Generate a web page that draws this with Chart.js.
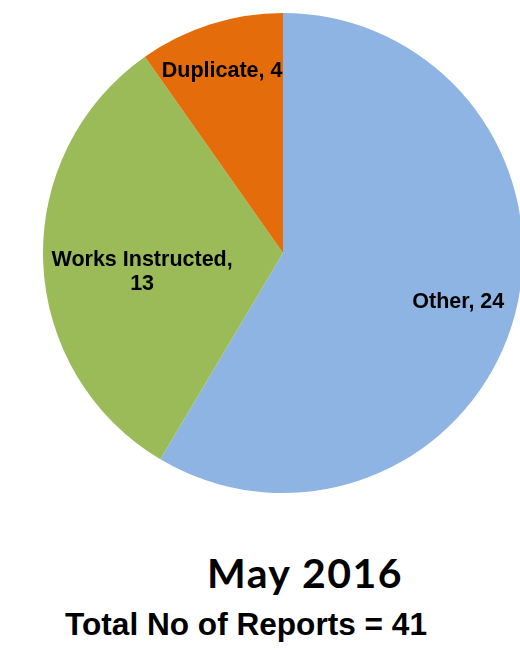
<!DOCTYPE html>
<html>
<head>
<meta charset="utf-8">
<script src="https://cdn.jsdelivr.net/npm/chart.js@4"></script>
<style>
  html, body { margin: 0; padding: 0; width: 520px; height: 653px; overflow: hidden; background: #fff; }
  #wrap { position: absolute; left: 43px; top: 13px; width: 480px; height: 480px; }
  .t { position: absolute; font-weight: bold; color: #000; white-space: nowrap; transform: translate(-50%, -50%); line-height: 1; }
  #title { left: 305px; top: 572px; font-size: 41px; letter-spacing: 1.5px; font-family: Lato, "Open Sans", sans-serif; }
  #sub { left: 246px; top: 625px; font-size: 31.6px; font-family: "Liberation Sans", Arial, sans-serif; }
</style>
</head>
<body>
<div id="wrap"><canvas id="c" width="480" height="480"></canvas></div>
<div class="t" id="title">May 2016</div>
<div class="t" id="sub">Total No of Reports = 41</div>
<script>
const categories = ["Other", "Works Instructed", "Duplicate"];
const values = [24, 13, 4];
const colors = ["#8EB4E3", "#9BBB59", "#E46C0A"];
const labelLines = [["Other, 24"], ["Works Instructed,", "13"], ["Duplicate, 4"]];
const labelRadius = [0.74, 0.60, 0.80];
const labelShift = [[4, 2], [3, 14], [-3, 1]];

const labelPlugin = {
  id: 'sliceLabels',
  afterDatasetsDraw(chart) {
    const ctx = chart.ctx;
    const meta = chart.getDatasetMeta(0);
    ctx.save();
    ctx.font = 'bold 21.5px "Liberation Sans", Arial, sans-serif';
    ctx.fillStyle = '#000';
    ctx.textAlign = 'center';
    ctx.textBaseline = 'middle';
    meta.data.forEach((arc, i) => {
      const p = arc.getProps(['x','y','startAngle','endAngle','outerRadius'], true);
      const mid = (p.startAngle + p.endAngle) / 2;
      const r = p.outerRadius * labelRadius[i];
      const x = p.x + Math.cos(mid) * r + labelShift[i][0];
      const y = p.y + Math.sin(mid) * r + labelShift[i][1];
      const lines = labelLines[i];
      const lh = 24;
      lines.forEach((ln, k) => {
        ctx.fillText(ln, x, y + (k - (lines.length - 1) / 2) * lh);
      });
    });
    ctx.restore();
  }
};

new Chart(document.getElementById('c'), {
  type: 'pie',
  data: {
    labels: categories,
    datasets: [{ data: values, backgroundColor: colors, borderWidth: 0 }]
  },
  options: {
    responsive: false,
    animation: false,
    layout: { padding: 0 },
    plugins: { legend: { display: false }, tooltip: { enabled: false }, title: { display: false } }
  },
  plugins: [labelPlugin]
});
</script>
</body>
</html>
